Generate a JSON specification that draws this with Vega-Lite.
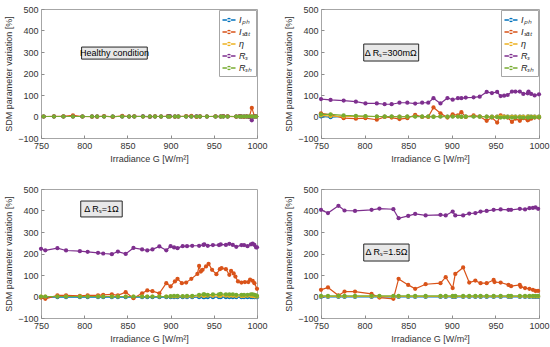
{
"$schema": "https://vega.github.io/schema/vega-lite/v6.json",
"padding": {"left": 4, "top": 4, "right": 2, "bottom": 4},
"config": {
  "font": "Liberation Sans",
  "view": {"stroke": "#a6a6a6"},
  "axis": {"grid": false, "domain": false, "labelFlush": false, "labelOverlap": false, "tickColor": "#8c8c8c", "tickSize": -3, "labelPadding": 6, "labelColor": "#333333", "titleColor": "#333333", "labelFontSize": 9, "titleFontSize": 9, "titleFontWeight": "normal"},
  "legend": {"orient": "top-right", "offset": 1, "title": null, "fillColor": "white", "strokeColor": "#a6a6a6", "padding": 3, "labelFontSize": 9, "labelFontStyle": "italic", "labelColor": "#222", "symbolType": "M-1,-0.1L1,-0.1L1,0.1L-1,0.1Z M-0.33,0A0.33,0.33,0,1,0,0.33,0A0.33,0.33,0,1,0,-0.33,0Z", "symbolSize": 170, "symbolStrokeWidth": 0, "rowPadding": 0, "labelOffset": 3}
},
"columns": 2,
"spacing": {"column": 16, "row": 20},
"resolve": {"legend": {"color": "independent"}},
"datasets": {
"ann": [
 {"p": "A", "x1": 797, "x2": 873, "y1": 267, "y2": 323, "xc": 835, "yc": 295, "label": "Healthy condition"},
 {"p": "B", "x1": 799, "x2": 862, "y1": 258, "y2": 337, "xc": 830, "yc": 297, "label": "Δ Rₛ=300mΩ"},
 {"p": "C", "x1": 796, "x2": 844, "y1": 370, "y2": 444, "xc": 820, "yc": 407, "label": "Δ Rₛ=1Ω"},
 {"p": "D", "x1": 799, "x2": 851, "y1": 165, "y2": 244, "xc": 825, "yc": 205, "label": "Δ Rₛ=1.5Ω"}
],
"d": [
{"p":"A","s":"Iph","G":753,"v":0},{"p":"A","s":"Iph","G":765,"v":0},{"p":"A","s":"Iph","G":776,"v":0},{"p":"A","s":"Iph","G":787,"v":0},{"p":"A","s":"Iph","G":798,"v":0},{"p":"A","s":"Iph","G":809,"v":0},{"p":"A","s":"Iph","G":815,"v":0},{"p":"A","s":"Iph","G":823,"v":0},{"p":"A","s":"Iph","G":833,"v":0},{"p":"A","s":"Iph","G":844,"v":0},{"p":"A","s":"Iph","G":852,"v":0},{"p":"A","s":"Iph","G":858,"v":0},{"p":"A","s":"Iph","G":868,"v":0},{"p":"A","s":"Iph","G":876,"v":0},{"p":"A","s":"Iph","G":882,"v":0},{"p":"A","s":"Iph","G":889,"v":0},{"p":"A","s":"Iph","G":897,"v":0},{"p":"A","s":"Iph","G":899,"v":0},{"p":"A","s":"Iph","G":905,"v":0},{"p":"A","s":"Iph","G":909,"v":0},{"p":"A","s":"Iph","G":918,"v":0},{"p":"A","s":"Iph","G":924,"v":0},{"p":"A","s":"Iph","G":930,"v":0},{"p":"A","s":"Iph","G":934,"v":0},{"p":"A","s":"Iph","G":942,"v":0},{"p":"A","s":"Iph","G":952,"v":0},{"p":"A","s":"Iph","G":958,"v":0},{"p":"A","s":"Iph","G":961,"v":0},{"p":"A","s":"Iph","G":966,"v":0},{"p":"A","s":"Iph","G":976,"v":0},{"p":"A","s":"Iph","G":980,"v":0},{"p":"A","s":"Iph","G":982,"v":0},{"p":"A","s":"Iph","G":985,"v":0},{"p":"A","s":"Iph","G":988,"v":0},{"p":"A","s":"Iph","G":991,"v":0},{"p":"A","s":"Iph","G":994,"v":0},{"p":"A","s":"Iph","G":997,"v":0},{"p":"A","s":"Iph","G":999,"v":0},
{"p":"A","s":"Isat","G":753,"v":0},{"p":"A","s":"Isat","G":765,"v":1},{"p":"A","s":"Isat","G":776,"v":1},{"p":"A","s":"Isat","G":787,"v":5},{"p":"A","s":"Isat","G":798,"v":0},{"p":"A","s":"Isat","G":809,"v":-1},{"p":"A","s":"Isat","G":815,"v":-1},{"p":"A","s":"Isat","G":823,"v":2},{"p":"A","s":"Isat","G":833,"v":-2},{"p":"A","s":"Isat","G":844,"v":3},{"p":"A","s":"Isat","G":852,"v":0},{"p":"A","s":"Isat","G":858,"v":1},{"p":"A","s":"Isat","G":868,"v":0},{"p":"A","s":"Isat","G":876,"v":-1},{"p":"A","s":"Isat","G":882,"v":1},{"p":"A","s":"Isat","G":889,"v":0},{"p":"A","s":"Isat","G":897,"v":2},{"p":"A","s":"Isat","G":899,"v":1},{"p":"A","s":"Isat","G":905,"v":-1},{"p":"A","s":"Isat","G":909,"v":0},{"p":"A","s":"Isat","G":918,"v":2},{"p":"A","s":"Isat","G":924,"v":3},{"p":"A","s":"Isat","G":930,"v":-2},{"p":"A","s":"Isat","G":934,"v":1},{"p":"A","s":"Isat","G":942,"v":0},{"p":"A","s":"Isat","G":952,"v":1},{"p":"A","s":"Isat","G":958,"v":0},{"p":"A","s":"Isat","G":961,"v":2},{"p":"A","s":"Isat","G":966,"v":1},{"p":"A","s":"Isat","G":976,"v":-1},{"p":"A","s":"Isat","G":980,"v":2},{"p":"A","s":"Isat","G":982,"v":0},{"p":"A","s":"Isat","G":985,"v":-2},{"p":"A","s":"Isat","G":988,"v":1},{"p":"A","s":"Isat","G":991,"v":-3},{"p":"A","s":"Isat","G":994,"v":40},{"p":"A","s":"Isat","G":997,"v":2},{"p":"A","s":"Isat","G":999,"v":0},
{"p":"A","s":"eta","G":753,"v":0},{"p":"A","s":"eta","G":765,"v":0},{"p":"A","s":"eta","G":776,"v":0},{"p":"A","s":"eta","G":787,"v":0},{"p":"A","s":"eta","G":798,"v":0},{"p":"A","s":"eta","G":809,"v":0},{"p":"A","s":"eta","G":815,"v":0},{"p":"A","s":"eta","G":823,"v":0},{"p":"A","s":"eta","G":833,"v":0},{"p":"A","s":"eta","G":844,"v":0},{"p":"A","s":"eta","G":852,"v":0},{"p":"A","s":"eta","G":858,"v":0},{"p":"A","s":"eta","G":868,"v":0},{"p":"A","s":"eta","G":876,"v":0},{"p":"A","s":"eta","G":882,"v":0},{"p":"A","s":"eta","G":889,"v":0},{"p":"A","s":"eta","G":897,"v":0},{"p":"A","s":"eta","G":899,"v":0},{"p":"A","s":"eta","G":905,"v":0},{"p":"A","s":"eta","G":909,"v":0},{"p":"A","s":"eta","G":918,"v":0},{"p":"A","s":"eta","G":924,"v":0},{"p":"A","s":"eta","G":930,"v":0},{"p":"A","s":"eta","G":934,"v":0},{"p":"A","s":"eta","G":942,"v":0},{"p":"A","s":"eta","G":952,"v":0},{"p":"A","s":"eta","G":958,"v":0},{"p":"A","s":"eta","G":961,"v":0},{"p":"A","s":"eta","G":966,"v":0},{"p":"A","s":"eta","G":976,"v":0},{"p":"A","s":"eta","G":980,"v":0},{"p":"A","s":"eta","G":982,"v":0},{"p":"A","s":"eta","G":985,"v":0},{"p":"A","s":"eta","G":988,"v":0},{"p":"A","s":"eta","G":991,"v":0},{"p":"A","s":"eta","G":994,"v":1},{"p":"A","s":"eta","G":997,"v":0},{"p":"A","s":"eta","G":999,"v":0},
{"p":"A","s":"Rs","G":753,"v":0},{"p":"A","s":"Rs","G":765,"v":0},{"p":"A","s":"Rs","G":776,"v":0},{"p":"A","s":"Rs","G":787,"v":0},{"p":"A","s":"Rs","G":798,"v":0},{"p":"A","s":"Rs","G":809,"v":0},{"p":"A","s":"Rs","G":815,"v":0},{"p":"A","s":"Rs","G":823,"v":0},{"p":"A","s":"Rs","G":833,"v":0},{"p":"A","s":"Rs","G":844,"v":0},{"p":"A","s":"Rs","G":852,"v":0},{"p":"A","s":"Rs","G":858,"v":0},{"p":"A","s":"Rs","G":868,"v":1},{"p":"A","s":"Rs","G":876,"v":-1},{"p":"A","s":"Rs","G":882,"v":0},{"p":"A","s":"Rs","G":889,"v":0},{"p":"A","s":"Rs","G":897,"v":1},{"p":"A","s":"Rs","G":899,"v":2},{"p":"A","s":"Rs","G":905,"v":0},{"p":"A","s":"Rs","G":909,"v":0},{"p":"A","s":"Rs","G":918,"v":0},{"p":"A","s":"Rs","G":924,"v":0},{"p":"A","s":"Rs","G":930,"v":1},{"p":"A","s":"Rs","G":934,"v":0},{"p":"A","s":"Rs","G":942,"v":0},{"p":"A","s":"Rs","G":952,"v":0},{"p":"A","s":"Rs","G":958,"v":0},{"p":"A","s":"Rs","G":961,"v":1},{"p":"A","s":"Rs","G":966,"v":0},{"p":"A","s":"Rs","G":976,"v":0},{"p":"A","s":"Rs","G":980,"v":1},{"p":"A","s":"Rs","G":982,"v":0},{"p":"A","s":"Rs","G":985,"v":0},{"p":"A","s":"Rs","G":988,"v":0},{"p":"A","s":"Rs","G":991,"v":-2},{"p":"A","s":"Rs","G":994,"v":-18},{"p":"A","s":"Rs","G":997,"v":1},{"p":"A","s":"Rs","G":999,"v":0},
{"p":"A","s":"Rsh","G":753,"v":0},{"p":"A","s":"Rsh","G":765,"v":0},{"p":"A","s":"Rsh","G":776,"v":0},{"p":"A","s":"Rsh","G":787,"v":0},{"p":"A","s":"Rsh","G":798,"v":0},{"p":"A","s":"Rsh","G":809,"v":0},{"p":"A","s":"Rsh","G":815,"v":0},{"p":"A","s":"Rsh","G":823,"v":0},{"p":"A","s":"Rsh","G":833,"v":0},{"p":"A","s":"Rsh","G":844,"v":0},{"p":"A","s":"Rsh","G":852,"v":0},{"p":"A","s":"Rsh","G":858,"v":0},{"p":"A","s":"Rsh","G":868,"v":0},{"p":"A","s":"Rsh","G":876,"v":0},{"p":"A","s":"Rsh","G":882,"v":0},{"p":"A","s":"Rsh","G":889,"v":0},{"p":"A","s":"Rsh","G":897,"v":0},{"p":"A","s":"Rsh","G":899,"v":0},{"p":"A","s":"Rsh","G":905,"v":0},{"p":"A","s":"Rsh","G":909,"v":0},{"p":"A","s":"Rsh","G":918,"v":0},{"p":"A","s":"Rsh","G":924,"v":0},{"p":"A","s":"Rsh","G":930,"v":0},{"p":"A","s":"Rsh","G":934,"v":0},{"p":"A","s":"Rsh","G":942,"v":0},{"p":"A","s":"Rsh","G":952,"v":0},{"p":"A","s":"Rsh","G":958,"v":0},{"p":"A","s":"Rsh","G":961,"v":0},{"p":"A","s":"Rsh","G":966,"v":0},{"p":"A","s":"Rsh","G":976,"v":0},{"p":"A","s":"Rsh","G":980,"v":0},{"p":"A","s":"Rsh","G":982,"v":0},{"p":"A","s":"Rsh","G":985,"v":0},{"p":"A","s":"Rsh","G":988,"v":0},{"p":"A","s":"Rsh","G":991,"v":0},{"p":"A","s":"Rsh","G":994,"v":0},{"p":"A","s":"Rsh","G":997,"v":0},{"p":"A","s":"Rsh","G":999,"v":0},

{"p":"B","s":"Iph","G":750,"v":0},{"p":"B","s":"Iph","G":761,"v":-3},{"p":"B","s":"Iph","G":776,"v":0},{"p":"B","s":"Iph","G":790,"v":0},{"p":"B","s":"Iph","G":801,"v":0},{"p":"B","s":"Iph","G":814,"v":0},{"p":"B","s":"Iph","G":823,"v":0},{"p":"B","s":"Iph","G":831,"v":0},{"p":"B","s":"Iph","G":840,"v":0},{"p":"B","s":"Iph","G":849,"v":0},{"p":"B","s":"Iph","G":858,"v":0},{"p":"B","s":"Iph","G":866,"v":0},{"p":"B","s":"Iph","G":873,"v":0},{"p":"B","s":"Iph","G":879,"v":0},{"p":"B","s":"Iph","G":887,"v":0},{"p":"B","s":"Iph","G":895,"v":0},{"p":"B","s":"Iph","G":901,"v":0},{"p":"B","s":"Iph","G":907,"v":0},{"p":"B","s":"Iph","G":911,"v":0},{"p":"B","s":"Iph","G":916,"v":0},{"p":"B","s":"Iph","G":925,"v":0},{"p":"B","s":"Iph","G":932,"v":0},{"p":"B","s":"Iph","G":940,"v":0},{"p":"B","s":"Iph","G":946,"v":0},{"p":"B","s":"Iph","G":952,"v":0},{"p":"B","s":"Iph","G":956,"v":0},{"p":"B","s":"Iph","G":960,"v":0},{"p":"B","s":"Iph","G":964,"v":0},{"p":"B","s":"Iph","G":969,"v":0},{"p":"B","s":"Iph","G":973,"v":0},{"p":"B","s":"Iph","G":978,"v":0},{"p":"B","s":"Iph","G":982,"v":0},{"p":"B","s":"Iph","G":987,"v":0},{"p":"B","s":"Iph","G":988,"v":0},{"p":"B","s":"Iph","G":991,"v":0},{"p":"B","s":"Iph","G":995,"v":0},{"p":"B","s":"Iph","G":1000,"v":0},
{"p":"B","s":"Isat","G":750,"v":15},{"p":"B","s":"Isat","G":761,"v":8},{"p":"B","s":"Isat","G":776,"v":-8},{"p":"B","s":"Isat","G":790,"v":-10},{"p":"B","s":"Isat","G":801,"v":-8},{"p":"B","s":"Isat","G":814,"v":-15},{"p":"B","s":"Isat","G":823,"v":-2},{"p":"B","s":"Isat","G":831,"v":-5},{"p":"B","s":"Isat","G":840,"v":-12},{"p":"B","s":"Isat","G":849,"v":-8},{"p":"B","s":"Isat","G":858,"v":8},{"p":"B","s":"Isat","G":866,"v":-2},{"p":"B","s":"Isat","G":873,"v":-2},{"p":"B","s":"Isat","G":879,"v":42},{"p":"B","s":"Isat","G":887,"v":15},{"p":"B","s":"Isat","G":895,"v":-5},{"p":"B","s":"Isat","G":901,"v":10},{"p":"B","s":"Isat","G":907,"v":5},{"p":"B","s":"Isat","G":911,"v":20},{"p":"B","s":"Isat","G":916,"v":-2},{"p":"B","s":"Isat","G":925,"v":5},{"p":"B","s":"Isat","G":932,"v":0},{"p":"B","s":"Isat","G":940,"v":-20},{"p":"B","s":"Isat","G":946,"v":-5},{"p":"B","s":"Isat","G":952,"v":-28},{"p":"B","s":"Isat","G":956,"v":5},{"p":"B","s":"Isat","G":960,"v":0},{"p":"B","s":"Isat","G":964,"v":-5},{"p":"B","s":"Isat","G":969,"v":-25},{"p":"B","s":"Isat","G":973,"v":-10},{"p":"B","s":"Isat","G":978,"v":-20},{"p":"B","s":"Isat","G":982,"v":-8},{"p":"B","s":"Isat","G":987,"v":-18},{"p":"B","s":"Isat","G":988,"v":-15},{"p":"B","s":"Isat","G":991,"v":-10},{"p":"B","s":"Isat","G":995,"v":-5},{"p":"B","s":"Isat","G":1000,"v":-5},
{"p":"B","s":"eta","G":750,"v":5},{"p":"B","s":"eta","G":761,"v":2},{"p":"B","s":"eta","G":776,"v":0},{"p":"B","s":"eta","G":790,"v":0},{"p":"B","s":"eta","G":801,"v":0},{"p":"B","s":"eta","G":814,"v":0},{"p":"B","s":"eta","G":823,"v":0},{"p":"B","s":"eta","G":831,"v":0},{"p":"B","s":"eta","G":840,"v":0},{"p":"B","s":"eta","G":849,"v":0},{"p":"B","s":"eta","G":858,"v":0},{"p":"B","s":"eta","G":866,"v":0},{"p":"B","s":"eta","G":873,"v":0},{"p":"B","s":"eta","G":879,"v":0},{"p":"B","s":"eta","G":887,"v":0},{"p":"B","s":"eta","G":895,"v":0},{"p":"B","s":"eta","G":901,"v":0},{"p":"B","s":"eta","G":907,"v":0},{"p":"B","s":"eta","G":911,"v":0},{"p":"B","s":"eta","G":916,"v":0},{"p":"B","s":"eta","G":925,"v":0},{"p":"B","s":"eta","G":932,"v":0},{"p":"B","s":"eta","G":940,"v":0},{"p":"B","s":"eta","G":946,"v":0},{"p":"B","s":"eta","G":952,"v":0},{"p":"B","s":"eta","G":956,"v":0},{"p":"B","s":"eta","G":960,"v":0},{"p":"B","s":"eta","G":964,"v":0},{"p":"B","s":"eta","G":969,"v":0},{"p":"B","s":"eta","G":973,"v":0},{"p":"B","s":"eta","G":978,"v":0},{"p":"B","s":"eta","G":982,"v":0},{"p":"B","s":"eta","G":987,"v":0},{"p":"B","s":"eta","G":988,"v":0},{"p":"B","s":"eta","G":991,"v":0},{"p":"B","s":"eta","G":995,"v":0},{"p":"B","s":"eta","G":1000,"v":0},
{"p":"B","s":"Rs","G":750,"v":81},{"p":"B","s":"Rs","G":761,"v":77},{"p":"B","s":"Rs","G":776,"v":74},{"p":"B","s":"Rs","G":790,"v":69},{"p":"B","s":"Rs","G":801,"v":61},{"p":"B","s":"Rs","G":814,"v":61},{"p":"B","s":"Rs","G":823,"v":57},{"p":"B","s":"Rs","G":831,"v":57},{"p":"B","s":"Rs","G":840,"v":64},{"p":"B","s":"Rs","G":849,"v":64},{"p":"B","s":"Rs","G":858,"v":60},{"p":"B","s":"Rs","G":866,"v":64},{"p":"B","s":"Rs","G":873,"v":64},{"p":"B","s":"Rs","G":879,"v":85},{"p":"B","s":"Rs","G":887,"v":61},{"p":"B","s":"Rs","G":895,"v":86},{"p":"B","s":"Rs","G":901,"v":78},{"p":"B","s":"Rs","G":907,"v":85},{"p":"B","s":"Rs","G":911,"v":85},{"p":"B","s":"Rs","G":916,"v":88},{"p":"B","s":"Rs","G":925,"v":89},{"p":"B","s":"Rs","G":932,"v":92},{"p":"B","s":"Rs","G":940,"v":114},{"p":"B","s":"Rs","G":946,"v":109},{"p":"B","s":"Rs","G":952,"v":114},{"p":"B","s":"Rs","G":956,"v":95},{"p":"B","s":"Rs","G":960,"v":97},{"p":"B","s":"Rs","G":964,"v":100},{"p":"B","s":"Rs","G":969,"v":116},{"p":"B","s":"Rs","G":973,"v":116},{"p":"B","s":"Rs","G":978,"v":116},{"p":"B","s":"Rs","G":982,"v":105},{"p":"B","s":"Rs","G":987,"v":108},{"p":"B","s":"Rs","G":988,"v":116},{"p":"B","s":"Rs","G":991,"v":105},{"p":"B","s":"Rs","G":995,"v":98},{"p":"B","s":"Rs","G":1000,"v":103},
{"p":"B","s":"Rsh","G":750,"v":10},{"p":"B","s":"Rsh","G":761,"v":10},{"p":"B","s":"Rsh","G":776,"v":5},{"p":"B","s":"Rsh","G":790,"v":3},{"p":"B","s":"Rsh","G":801,"v":2},{"p":"B","s":"Rsh","G":814,"v":0},{"p":"B","s":"Rsh","G":823,"v":-1},{"p":"B","s":"Rsh","G":831,"v":0},{"p":"B","s":"Rsh","G":840,"v":-2},{"p":"B","s":"Rsh","G":849,"v":-1},{"p":"B","s":"Rsh","G":858,"v":0},{"p":"B","s":"Rsh","G":866,"v":-1},{"p":"B","s":"Rsh","G":873,"v":0},{"p":"B","s":"Rsh","G":879,"v":-2},{"p":"B","s":"Rsh","G":887,"v":0},{"p":"B","s":"Rsh","G":895,"v":-2},{"p":"B","s":"Rsh","G":901,"v":0},{"p":"B","s":"Rsh","G":907,"v":0},{"p":"B","s":"Rsh","G":911,"v":-2},{"p":"B","s":"Rsh","G":916,"v":-1},{"p":"B","s":"Rsh","G":925,"v":0},{"p":"B","s":"Rsh","G":932,"v":-1},{"p":"B","s":"Rsh","G":940,"v":-2},{"p":"B","s":"Rsh","G":946,"v":-3},{"p":"B","s":"Rsh","G":952,"v":-3},{"p":"B","s":"Rsh","G":956,"v":-5},{"p":"B","s":"Rsh","G":960,"v":-4},{"p":"B","s":"Rsh","G":964,"v":-3},{"p":"B","s":"Rsh","G":969,"v":-5},{"p":"B","s":"Rsh","G":973,"v":-4},{"p":"B","s":"Rsh","G":978,"v":-4},{"p":"B","s":"Rsh","G":982,"v":-5},{"p":"B","s":"Rsh","G":987,"v":-5},{"p":"B","s":"Rsh","G":988,"v":-4},{"p":"B","s":"Rsh","G":991,"v":-3},{"p":"B","s":"Rsh","G":995,"v":-4},{"p":"B","s":"Rsh","G":1000,"v":-3},

{"p":"C","s":"Iph","G":750,"v":-3},{"p":"C","s":"Iph","G":755,"v":-3},{"p":"C","s":"Iph","G":769,"v":-3},{"p":"C","s":"Iph","G":779,"v":-3},{"p":"C","s":"Iph","G":795,"v":-3},{"p":"C","s":"Iph","G":804,"v":-3},{"p":"C","s":"Iph","G":816,"v":-3},{"p":"C","s":"Iph","G":822,"v":-3},{"p":"C","s":"Iph","G":832,"v":-3},{"p":"C","s":"Iph","G":839,"v":-3},{"p":"C","s":"Iph","G":848,"v":-3},{"p":"C","s":"Iph","G":857,"v":-3},{"p":"C","s":"Iph","G":867,"v":-3},{"p":"C","s":"Iph","G":873,"v":-3},{"p":"C","s":"Iph","G":879,"v":-3},{"p":"C","s":"Iph","G":887,"v":-3},{"p":"C","s":"Iph","G":895,"v":-3},{"p":"C","s":"Iph","G":900,"v":-3},{"p":"C","s":"Iph","G":904,"v":-3},{"p":"C","s":"Iph","G":908,"v":-3},{"p":"C","s":"Iph","G":914,"v":-3},{"p":"C","s":"Iph","G":919,"v":-3},{"p":"C","s":"Iph","G":925,"v":-3},{"p":"C","s":"Iph","G":933,"v":-3},{"p":"C","s":"Iph","G":938,"v":-3},{"p":"C","s":"Iph","G":939,"v":-3},{"p":"C","s":"Iph","G":943,"v":-3},{"p":"C","s":"Iph","G":949,"v":-3},{"p":"C","s":"Iph","G":956,"v":-3},{"p":"C","s":"Iph","G":958,"v":-3},{"p":"C","s":"Iph","G":964,"v":-3},{"p":"C","s":"Iph","G":968,"v":-3},{"p":"C","s":"Iph","G":972,"v":-3},{"p":"C","s":"Iph","G":976,"v":-3},{"p":"C","s":"Iph","G":982,"v":-3},{"p":"C","s":"Iph","G":985,"v":-3},{"p":"C","s":"Iph","G":989,"v":-3},{"p":"C","s":"Iph","G":993,"v":-3},{"p":"C","s":"Iph","G":995,"v":-3},{"p":"C","s":"Iph","G":997,"v":-3},{"p":"C","s":"Iph","G":999,"v":-3},{"p":"C","s":"Iph","G":1000,"v":-3},
{"p":"C","s":"Isat","G":750,"v":-5},{"p":"C","s":"Isat","G":755,"v":-11},{"p":"C","s":"Isat","G":769,"v":5},{"p":"C","s":"Isat","G":779,"v":5},{"p":"C","s":"Isat","G":795,"v":3},{"p":"C","s":"Isat","G":804,"v":5},{"p":"C","s":"Isat","G":816,"v":5},{"p":"C","s":"Isat","G":822,"v":8},{"p":"C","s":"Isat","G":832,"v":10},{"p":"C","s":"Isat","G":839,"v":5},{"p":"C","s":"Isat","G":848,"v":20},{"p":"C","s":"Isat","G":857,"v":-8},{"p":"C","s":"Isat","G":867,"v":15},{"p":"C","s":"Isat","G":873,"v":28},{"p":"C","s":"Isat","G":879,"v":25},{"p":"C","s":"Isat","G":887,"v":15},{"p":"C","s":"Isat","G":895,"v":62},{"p":"C","s":"Isat","G":900,"v":47},{"p":"C","s":"Isat","G":905,"v":70},{"p":"C","s":"Isat","G":908,"v":82},{"p":"C","s":"Isat","G":913,"v":62},{"p":"C","s":"Isat","G":918,"v":65},{"p":"C","s":"Isat","G":924,"v":82},{"p":"C","s":"Isat","G":931,"v":105},{"p":"C","s":"Isat","G":933,"v":142},{"p":"C","s":"Isat","G":935,"v":116},{"p":"C","s":"Isat","G":937,"v":124},{"p":"C","s":"Isat","G":941,"v":140},{"p":"C","s":"Isat","G":944,"v":152},{"p":"C","s":"Isat","G":948,"v":124},{"p":"C","s":"Isat","G":953,"v":104},{"p":"C","s":"Isat","G":957,"v":127},{"p":"C","s":"Isat","G":959,"v":132},{"p":"C","s":"Isat","G":964,"v":127},{"p":"C","s":"Isat","G":968,"v":101},{"p":"C","s":"Isat","G":970,"v":119},{"p":"C","s":"Isat","G":973,"v":107},{"p":"C","s":"Isat","G":975,"v":93},{"p":"C","s":"Isat","G":978,"v":70},{"p":"C","s":"Isat","G":982,"v":65},{"p":"C","s":"Isat","G":986,"v":67},{"p":"C","s":"Isat","G":990,"v":67},{"p":"C","s":"Isat","G":992,"v":78},{"p":"C","s":"Isat","G":995,"v":73},{"p":"C","s":"Isat","G":997,"v":62},{"p":"C","s":"Isat","G":1000,"v":36},
{"p":"C","s":"eta","G":750,"v":0},{"p":"C","s":"eta","G":755,"v":0},{"p":"C","s":"eta","G":769,"v":0},{"p":"C","s":"eta","G":779,"v":0},{"p":"C","s":"eta","G":795,"v":0},{"p":"C","s":"eta","G":804,"v":0},{"p":"C","s":"eta","G":816,"v":0},{"p":"C","s":"eta","G":822,"v":0},{"p":"C","s":"eta","G":832,"v":0},{"p":"C","s":"eta","G":839,"v":0},{"p":"C","s":"eta","G":848,"v":0},{"p":"C","s":"eta","G":857,"v":0},{"p":"C","s":"eta","G":867,"v":0},{"p":"C","s":"eta","G":873,"v":0},{"p":"C","s":"eta","G":879,"v":0},{"p":"C","s":"eta","G":887,"v":0},{"p":"C","s":"eta","G":895,"v":0},{"p":"C","s":"eta","G":900,"v":0},{"p":"C","s":"eta","G":904,"v":0},{"p":"C","s":"eta","G":908,"v":0},{"p":"C","s":"eta","G":914,"v":0},{"p":"C","s":"eta","G":919,"v":0},{"p":"C","s":"eta","G":925,"v":0},{"p":"C","s":"eta","G":933,"v":3},{"p":"C","s":"eta","G":938,"v":3},{"p":"C","s":"eta","G":939,"v":3},{"p":"C","s":"eta","G":943,"v":4},{"p":"C","s":"eta","G":949,"v":3},{"p":"C","s":"eta","G":956,"v":3},{"p":"C","s":"eta","G":958,"v":3},{"p":"C","s":"eta","G":964,"v":4},{"p":"C","s":"eta","G":968,"v":3},{"p":"C","s":"eta","G":972,"v":3},{"p":"C","s":"eta","G":976,"v":2},{"p":"C","s":"eta","G":982,"v":2},{"p":"C","s":"eta","G":985,"v":2},{"p":"C","s":"eta","G":989,"v":3},{"p":"C","s":"eta","G":993,"v":3},{"p":"C","s":"eta","G":995,"v":2},{"p":"C","s":"eta","G":997,"v":1},{"p":"C","s":"eta","G":999,"v":0},{"p":"C","s":"eta","G":1000,"v":0},
{"p":"C","s":"Rs","G":750,"v":222},{"p":"C","s":"Rs","G":755,"v":215},{"p":"C","s":"Rs","G":769,"v":225},{"p":"C","s":"Rs","G":779,"v":214},{"p":"C","s":"Rs","G":795,"v":211},{"p":"C","s":"Rs","G":804,"v":208},{"p":"C","s":"Rs","G":816,"v":203},{"p":"C","s":"Rs","G":822,"v":200},{"p":"C","s":"Rs","G":832,"v":197},{"p":"C","s":"Rs","G":839,"v":209},{"p":"C","s":"Rs","G":848,"v":198},{"p":"C","s":"Rs","G":857,"v":226},{"p":"C","s":"Rs","G":867,"v":219},{"p":"C","s":"Rs","G":873,"v":214},{"p":"C","s":"Rs","G":879,"v":219},{"p":"C","s":"Rs","G":887,"v":233},{"p":"C","s":"Rs","G":895,"v":215},{"p":"C","s":"Rs","G":900,"v":234},{"p":"C","s":"Rs","G":904,"v":228},{"p":"C","s":"Rs","G":908,"v":225},{"p":"C","s":"Rs","G":914,"v":234},{"p":"C","s":"Rs","G":919,"v":234},{"p":"C","s":"Rs","G":925,"v":236},{"p":"C","s":"Rs","G":933,"v":236},{"p":"C","s":"Rs","G":938,"v":240},{"p":"C","s":"Rs","G":939,"v":243},{"p":"C","s":"Rs","G":943,"v":236},{"p":"C","s":"Rs","G":949,"v":239},{"p":"C","s":"Rs","G":956,"v":239},{"p":"C","s":"Rs","G":958,"v":242},{"p":"C","s":"Rs","G":964,"v":240},{"p":"C","s":"Rs","G":968,"v":245},{"p":"C","s":"Rs","G":972,"v":240},{"p":"C","s":"Rs","G":976,"v":231},{"p":"C","s":"Rs","G":982,"v":239},{"p":"C","s":"Rs","G":985,"v":239},{"p":"C","s":"Rs","G":989,"v":234},{"p":"C","s":"Rs","G":993,"v":243},{"p":"C","s":"Rs","G":995,"v":246},{"p":"C","s":"Rs","G":997,"v":240},{"p":"C","s":"Rs","G":999,"v":228},{"p":"C","s":"Rs","G":1000,"v":229},
{"p":"C","s":"Rsh","G":750,"v":0},{"p":"C","s":"Rsh","G":755,"v":0},{"p":"C","s":"Rsh","G":769,"v":0},{"p":"C","s":"Rsh","G":779,"v":0},{"p":"C","s":"Rsh","G":795,"v":0},{"p":"C","s":"Rsh","G":804,"v":0},{"p":"C","s":"Rsh","G":816,"v":0},{"p":"C","s":"Rsh","G":822,"v":0},{"p":"C","s":"Rsh","G":832,"v":0},{"p":"C","s":"Rsh","G":839,"v":0},{"p":"C","s":"Rsh","G":848,"v":0},{"p":"C","s":"Rsh","G":857,"v":0},{"p":"C","s":"Rsh","G":867,"v":0},{"p":"C","s":"Rsh","G":873,"v":0},{"p":"C","s":"Rsh","G":879,"v":0},{"p":"C","s":"Rsh","G":887,"v":0},{"p":"C","s":"Rsh","G":895,"v":0},{"p":"C","s":"Rsh","G":900,"v":2},{"p":"C","s":"Rsh","G":904,"v":3},{"p":"C","s":"Rsh","G":908,"v":3},{"p":"C","s":"Rsh","G":914,"v":2},{"p":"C","s":"Rsh","G":919,"v":3},{"p":"C","s":"Rsh","G":925,"v":3},{"p":"C","s":"Rsh","G":933,"v":8},{"p":"C","s":"Rsh","G":938,"v":10},{"p":"C","s":"Rsh","G":939,"v":10},{"p":"C","s":"Rsh","G":943,"v":8},{"p":"C","s":"Rsh","G":949,"v":10},{"p":"C","s":"Rsh","G":956,"v":10},{"p":"C","s":"Rsh","G":958,"v":12},{"p":"C","s":"Rsh","G":964,"v":10},{"p":"C","s":"Rsh","G":968,"v":10},{"p":"C","s":"Rsh","G":972,"v":10},{"p":"C","s":"Rsh","G":976,"v":8},{"p":"C","s":"Rsh","G":982,"v":8},{"p":"C","s":"Rsh","G":985,"v":8},{"p":"C","s":"Rsh","G":989,"v":8},{"p":"C","s":"Rsh","G":993,"v":10},{"p":"C","s":"Rsh","G":995,"v":10},{"p":"C","s":"Rsh","G":997,"v":8},{"p":"C","s":"Rsh","G":999,"v":5},{"p":"C","s":"Rsh","G":1000,"v":3},

{"p":"D","s":"Iph","G":750,"v":-2},{"p":"D","s":"Iph","G":758,"v":-2},{"p":"D","s":"Iph","G":770,"v":-2},{"p":"D","s":"Iph","G":777,"v":-2},{"p":"D","s":"Iph","G":789,"v":-2},{"p":"D","s":"Iph","G":808,"v":-2},{"p":"D","s":"Iph","G":817,"v":-2},{"p":"D","s":"Iph","G":833,"v":-2},{"p":"D","s":"Iph","G":839,"v":-2},{"p":"D","s":"Iph","G":850,"v":-2},{"p":"D","s":"Iph","G":858,"v":-2},{"p":"D","s":"Iph","G":870,"v":-2},{"p":"D","s":"Iph","G":887,"v":-2},{"p":"D","s":"Iph","G":893,"v":-2},{"p":"D","s":"Iph","G":901,"v":-2},{"p":"D","s":"Iph","G":904,"v":-2},{"p":"D","s":"Iph","G":913,"v":-2},{"p":"D","s":"Iph","G":920,"v":-2},{"p":"D","s":"Iph","G":927,"v":-2},{"p":"D","s":"Iph","G":933,"v":-2},{"p":"D","s":"Iph","G":940,"v":-2},{"p":"D","s":"Iph","G":948,"v":-2},{"p":"D","s":"Iph","G":956,"v":-2},{"p":"D","s":"Iph","G":965,"v":-2},{"p":"D","s":"Iph","G":968,"v":-2},{"p":"D","s":"Iph","G":978,"v":-2},{"p":"D","s":"Iph","G":984,"v":-2},{"p":"D","s":"Iph","G":989,"v":-2},{"p":"D","s":"Iph","G":993,"v":-2},{"p":"D","s":"Iph","G":996,"v":-2},{"p":"D","s":"Iph","G":999,"v":-2},
{"p":"D","s":"Isat","G":750,"v":31},{"p":"D","s":"Isat","G":758,"v":42},{"p":"D","s":"Isat","G":770,"v":5},{"p":"D","s":"Isat","G":777,"v":23},{"p":"D","s":"Isat","G":789,"v":23},{"p":"D","s":"Isat","G":808,"v":12},{"p":"D","s":"Isat","G":817,"v":-5},{"p":"D","s":"Isat","G":833,"v":-11},{"p":"D","s":"Isat","G":839,"v":82},{"p":"D","s":"Isat","G":850,"v":54},{"p":"D","s":"Isat","G":858,"v":36},{"p":"D","s":"Isat","G":870,"v":57},{"p":"D","s":"Isat","G":887,"v":62},{"p":"D","s":"Isat","G":893,"v":90},{"p":"D","s":"Isat","G":901,"v":39},{"p":"D","s":"Isat","G":904,"v":105},{"p":"D","s":"Isat","G":913,"v":135},{"p":"D","s":"Isat","G":920,"v":65},{"p":"D","s":"Isat","G":927,"v":74},{"p":"D","s":"Isat","G":933,"v":62},{"p":"D","s":"Isat","G":940,"v":62},{"p":"D","s":"Isat","G":948,"v":77},{"p":"D","s":"Isat","G":949,"v":67},{"p":"D","s":"Isat","G":956,"v":65},{"p":"D","s":"Isat","G":965,"v":54},{"p":"D","s":"Isat","G":968,"v":48},{"p":"D","s":"Isat","G":978,"v":54},{"p":"D","s":"Isat","G":979,"v":45},{"p":"D","s":"Isat","G":984,"v":39},{"p":"D","s":"Isat","G":989,"v":36},{"p":"D","s":"Isat","G":993,"v":31},{"p":"D","s":"Isat","G":996,"v":26},{"p":"D","s":"Isat","G":999,"v":26},
{"p":"D","s":"eta","G":750,"v":0},{"p":"D","s":"eta","G":758,"v":0},{"p":"D","s":"eta","G":770,"v":0},{"p":"D","s":"eta","G":777,"v":0},{"p":"D","s":"eta","G":789,"v":0},{"p":"D","s":"eta","G":808,"v":0},{"p":"D","s":"eta","G":817,"v":0},{"p":"D","s":"eta","G":833,"v":0},{"p":"D","s":"eta","G":839,"v":0},{"p":"D","s":"eta","G":850,"v":0},{"p":"D","s":"eta","G":858,"v":0},{"p":"D","s":"eta","G":870,"v":0},{"p":"D","s":"eta","G":887,"v":0},{"p":"D","s":"eta","G":893,"v":0},{"p":"D","s":"eta","G":901,"v":0},{"p":"D","s":"eta","G":904,"v":0},{"p":"D","s":"eta","G":913,"v":0},{"p":"D","s":"eta","G":920,"v":0},{"p":"D","s":"eta","G":927,"v":0},{"p":"D","s":"eta","G":933,"v":0},{"p":"D","s":"eta","G":940,"v":0},{"p":"D","s":"eta","G":948,"v":0},{"p":"D","s":"eta","G":956,"v":0},{"p":"D","s":"eta","G":965,"v":0},{"p":"D","s":"eta","G":968,"v":0},{"p":"D","s":"eta","G":978,"v":0},{"p":"D","s":"eta","G":984,"v":0},{"p":"D","s":"eta","G":989,"v":0},{"p":"D","s":"eta","G":993,"v":0},{"p":"D","s":"eta","G":996,"v":0},{"p":"D","s":"eta","G":999,"v":0},
{"p":"D","s":"Rs","G":750,"v":403},{"p":"D","s":"Rs","G":758,"v":388},{"p":"D","s":"Rs","G":770,"v":422},{"p":"D","s":"Rs","G":777,"v":400},{"p":"D","s":"Rs","G":789,"v":398},{"p":"D","s":"Rs","G":808,"v":403},{"p":"D","s":"Rs","G":817,"v":409},{"p":"D","s":"Rs","G":833,"v":406},{"p":"D","s":"Rs","G":839,"v":364},{"p":"D","s":"Rs","G":850,"v":375},{"p":"D","s":"Rs","G":858,"v":384},{"p":"D","s":"Rs","G":870,"v":377},{"p":"D","s":"Rs","G":887,"v":380},{"p":"D","s":"Rs","G":893,"v":377},{"p":"D","s":"Rs","G":901,"v":395},{"p":"D","s":"Rs","G":904,"v":377},{"p":"D","s":"Rs","G":913,"v":377},{"p":"D","s":"Rs","G":920,"v":386},{"p":"D","s":"Rs","G":927,"v":388},{"p":"D","s":"Rs","G":933,"v":395},{"p":"D","s":"Rs","G":940,"v":398},{"p":"D","s":"Rs","G":948,"v":403},{"p":"D","s":"Rs","G":956,"v":405},{"p":"D","s":"Rs","G":965,"v":403},{"p":"D","s":"Rs","G":968,"v":403},{"p":"D","s":"Rs","G":978,"v":408},{"p":"D","s":"Rs","G":984,"v":405},{"p":"D","s":"Rs","G":989,"v":411},{"p":"D","s":"Rs","G":993,"v":412},{"p":"D","s":"Rs","G":996,"v":415},{"p":"D","s":"Rs","G":999,"v":408},
{"p":"D","s":"Rsh","G":750,"v":3},{"p":"D","s":"Rsh","G":758,"v":3},{"p":"D","s":"Rsh","G":770,"v":3},{"p":"D","s":"Rsh","G":777,"v":3},{"p":"D","s":"Rsh","G":789,"v":3},{"p":"D","s":"Rsh","G":808,"v":3},{"p":"D","s":"Rsh","G":817,"v":3},{"p":"D","s":"Rsh","G":833,"v":3},{"p":"D","s":"Rsh","G":839,"v":3},{"p":"D","s":"Rsh","G":850,"v":3},{"p":"D","s":"Rsh","G":858,"v":3},{"p":"D","s":"Rsh","G":870,"v":3},{"p":"D","s":"Rsh","G":887,"v":3},{"p":"D","s":"Rsh","G":893,"v":3},{"p":"D","s":"Rsh","G":901,"v":3},{"p":"D","s":"Rsh","G":904,"v":3},{"p":"D","s":"Rsh","G":913,"v":3},{"p":"D","s":"Rsh","G":920,"v":3},{"p":"D","s":"Rsh","G":927,"v":3},{"p":"D","s":"Rsh","G":933,"v":3},{"p":"D","s":"Rsh","G":940,"v":3},{"p":"D","s":"Rsh","G":948,"v":3},{"p":"D","s":"Rsh","G":956,"v":3},{"p":"D","s":"Rsh","G":965,"v":3},{"p":"D","s":"Rsh","G":968,"v":3},{"p":"D","s":"Rsh","G":978,"v":3},{"p":"D","s":"Rsh","G":984,"v":3},{"p":"D","s":"Rsh","G":989,"v":3},{"p":"D","s":"Rsh","G":993,"v":3},{"p":"D","s":"Rsh","G":996,"v":3},{"p":"D","s":"Rsh","G":999,"v":3}
]
},
"concat": [
{
 "width": 216, "height": 129,
 "layer": [
  {"data": {"name": "d"}, "transform": [{"filter": "datum.p == 'A'"}],
   "mark": {"type": "line", "strokeWidth": 1.2},
   "encoding": {
    "x": {"field": "G", "type": "quantitative", "scale": {"domain": [750, 1000], "nice": false, "zero": false}, "axis": {"values": [750, 800, 850, 900, 950, 1000], "format": "d", "title": "Irradiance  G [W/m²]"}},
    "y": {"field": "v", "type": "quantitative", "scale": {"domain": [-100, 500], "nice": false, "zero": false}, "axis": {"values": [-100, 0, 100, 200, 300, 400, 500], "format": "d", "title": "SDM parameter variation [%]"}},
    "color": {"field": "s", "type": "nominal", "scale": {"domain": ["Iph", "Isat", "eta", "Rs", "Rsh"], "range": ["#0072BD", "#D95319", "#EDB120", "#7E2F8E", "#77AC30"]}, "legend": {"labelExpr": "{'Iph':'Iₚₕ','Isat':'Iₛₐₜ','eta':'η','Rs':'Rₛ','Rsh':'Rₛₕ'}[datum.label]"}}}},
  {"data": {"name": "d"}, "transform": [{"filter": "datum.p == 'A'"}],
   "mark": {"type": "point", "filled": true, "size": 18, "opacity": 1},
   "encoding": {
    "x": {"field": "G", "type": "quantitative", "scale": {"domain": [750, 1000], "nice": false, "zero": false}, "axis": {"values": [750, 800, 850, 900, 950, 1000], "format": "d", "title": "Irradiance  G [W/m²]"}},
    "y": {"field": "v", "type": "quantitative", "scale": {"domain": [-100, 500], "nice": false, "zero": false}, "axis": {"values": [-100, 0, 100, 200, 300, 400, 500], "format": "d", "title": "SDM parameter variation [%]"}},
    "color": {"field": "s", "type": "nominal", "scale": {"domain": ["Iph", "Isat", "eta", "Rs", "Rsh"], "range": ["#0072BD", "#D95319", "#EDB120", "#7E2F8E", "#77AC30"]}, "legend": {"labelExpr": "{'Iph':'Iₚₕ','Isat':'Iₛₐₜ','eta':'η','Rs':'Rₛ','Rsh':'Rₛₕ'}[datum.label]"}}}},
  {"data": {"name": "ann"}, "transform": [{"filter": "datum.p == 'A'"}],
   "mark": {"type": "rect", "fill": "#e8e8e8", "stroke": "#262626", "strokeWidth": 1},
   "encoding": {
    "x": {"field": "x1", "type": "quantitative", "scale": {"domain": [750, 1000], "nice": false, "zero": false}, "axis": {"values": [750, 800, 850, 900, 950, 1000], "format": "d", "title": "Irradiance  G [W/m²]"}}, "x2": {"field": "x2"},
    "y": {"field": "y1", "type": "quantitative", "scale": {"domain": [-100, 500], "nice": false, "zero": false}, "axis": {"values": [-100, 0, 100, 200, 300, 400, 500], "format": "d", "title": "SDM parameter variation [%]"}}, "y2": {"field": "y2"}}},
  {"data": {"name": "ann"}, "transform": [{"filter": "datum.p == 'A'"}],
   "mark": {"type": "text", "fontSize": 9, "color": "#000"},
   "encoding": {
    "x": {"field": "xc", "type": "quantitative", "scale": {"domain": [750, 1000], "nice": false, "zero": false}, "axis": {"values": [750, 800, 850, 900, 950, 1000], "format": "d", "title": "Irradiance  G [W/m²]"}},
    "y": {"field": "yc", "type": "quantitative", "scale": {"domain": [-100, 500], "nice": false, "zero": false}, "axis": {"values": [-100, 0, 100, 200, 300, 400, 500], "format": "d", "title": "SDM parameter variation [%]"}},
    "text": {"field": "label"}}}
 ]
},
{
 "width": 218, "height": 129,
 "layer": [
  {"data": {"name": "d"}, "transform": [{"filter": "datum.p == 'B'"}],
   "mark": {"type": "line", "strokeWidth": 1.2},
   "encoding": {
    "x": {"field": "G", "type": "quantitative", "scale": {"domain": [750, 1000], "nice": false, "zero": false}, "axis": {"values": [750, 800, 850, 900, 950, 1000], "format": "d", "title": "Irradiance  G [W/m²]"}},
    "y": {"field": "v", "type": "quantitative", "scale": {"domain": [-100, 500], "nice": false, "zero": false}, "axis": {"values": [-100, 0, 100, 200, 300, 400, 500], "format": "d", "title": "SDM parameter variation [%]"}},
    "color": {"field": "s", "type": "nominal", "scale": {"domain": ["Iph", "Isat", "eta", "Rs", "Rsh"], "range": ["#0072BD", "#D95319", "#EDB120", "#7E2F8E", "#77AC30"]}, "legend": {"labelExpr": "{'Iph':'Iₚₕ','Isat':'Iₛₐₜ','eta':'η','Rs':'Rₛ','Rsh':'Rₛₕ'}[datum.label]"}}}},
  {"data": {"name": "d"}, "transform": [{"filter": "datum.p == 'B'"}],
   "mark": {"type": "point", "filled": true, "size": 18, "opacity": 1},
   "encoding": {
    "x": {"field": "G", "type": "quantitative", "scale": {"domain": [750, 1000], "nice": false, "zero": false}, "axis": {"values": [750, 800, 850, 900, 950, 1000], "format": "d", "title": "Irradiance  G [W/m²]"}},
    "y": {"field": "v", "type": "quantitative", "scale": {"domain": [-100, 500], "nice": false, "zero": false}, "axis": {"values": [-100, 0, 100, 200, 300, 400, 500], "format": "d", "title": "SDM parameter variation [%]"}},
    "color": {"field": "s", "type": "nominal", "scale": {"domain": ["Iph", "Isat", "eta", "Rs", "Rsh"], "range": ["#0072BD", "#D95319", "#EDB120", "#7E2F8E", "#77AC30"]}, "legend": {"labelExpr": "{'Iph':'Iₚₕ','Isat':'Iₛₐₜ','eta':'η','Rs':'Rₛ','Rsh':'Rₛₕ'}[datum.label]"}}}},
  {"data": {"name": "ann"}, "transform": [{"filter": "datum.p == 'B'"}],
   "mark": {"type": "rect", "fill": "#e8e8e8", "stroke": "#262626", "strokeWidth": 1},
   "encoding": {
    "x": {"field": "x1", "type": "quantitative", "scale": {"domain": [750, 1000], "nice": false, "zero": false}, "axis": {"values": [750, 800, 850, 900, 950, 1000], "format": "d", "title": "Irradiance  G [W/m²]"}}, "x2": {"field": "x2"},
    "y": {"field": "y1", "type": "quantitative", "scale": {"domain": [-100, 500], "nice": false, "zero": false}, "axis": {"values": [-100, 0, 100, 200, 300, 400, 500], "format": "d", "title": "SDM parameter variation [%]"}}, "y2": {"field": "y2"}}},
  {"data": {"name": "ann"}, "transform": [{"filter": "datum.p == 'B'"}],
   "mark": {"type": "text", "fontSize": 9, "color": "#000"},
   "encoding": {
    "x": {"field": "xc", "type": "quantitative", "scale": {"domain": [750, 1000], "nice": false, "zero": false}, "axis": {"values": [750, 800, 850, 900, 950, 1000], "format": "d", "title": "Irradiance  G [W/m²]"}},
    "y": {"field": "yc", "type": "quantitative", "scale": {"domain": [-100, 500], "nice": false, "zero": false}, "axis": {"values": [-100, 0, 100, 200, 300, 400, 500], "format": "d", "title": "SDM parameter variation [%]"}},
    "text": {"field": "label"}}}
 ]
},
{
 "width": 216, "height": 129,
 "layer": [
  {"data": {"name": "d"}, "transform": [{"filter": "datum.p == 'C'"}],
   "mark": {"type": "line", "strokeWidth": 1.2},
   "encoding": {
    "x": {"field": "G", "type": "quantitative", "scale": {"domain": [750, 1000], "nice": false, "zero": false}, "axis": {"values": [750, 800, 850, 900, 950, 1000], "format": "d", "title": "Irradiance  G [W/m²]"}},
    "y": {"field": "v", "type": "quantitative", "scale": {"domain": [-100, 500], "nice": false, "zero": false}, "axis": {"values": [-100, 0, 100, 200, 300, 400, 500], "format": "d", "title": "SDM parameter variation [%]"}},
    "color": {"field": "s", "type": "nominal", "scale": {"domain": ["Iph", "Isat", "eta", "Rs", "Rsh"], "range": ["#0072BD", "#D95319", "#EDB120", "#7E2F8E", "#77AC30"]}, "legend": null}}},
  {"data": {"name": "d"}, "transform": [{"filter": "datum.p == 'C'"}],
   "mark": {"type": "point", "filled": true, "size": 18, "opacity": 1},
   "encoding": {
    "x": {"field": "G", "type": "quantitative", "scale": {"domain": [750, 1000], "nice": false, "zero": false}, "axis": {"values": [750, 800, 850, 900, 950, 1000], "format": "d", "title": "Irradiance  G [W/m²]"}},
    "y": {"field": "v", "type": "quantitative", "scale": {"domain": [-100, 500], "nice": false, "zero": false}, "axis": {"values": [-100, 0, 100, 200, 300, 400, 500], "format": "d", "title": "SDM parameter variation [%]"}},
    "color": {"field": "s", "type": "nominal", "scale": {"domain": ["Iph", "Isat", "eta", "Rs", "Rsh"], "range": ["#0072BD", "#D95319", "#EDB120", "#7E2F8E", "#77AC30"]}, "legend": null}}},
  {"data": {"name": "ann"}, "transform": [{"filter": "datum.p == 'C'"}],
   "mark": {"type": "rect", "fill": "#e8e8e8", "stroke": "#262626", "strokeWidth": 1},
   "encoding": {
    "x": {"field": "x1", "type": "quantitative", "scale": {"domain": [750, 1000], "nice": false, "zero": false}, "axis": {"values": [750, 800, 850, 900, 950, 1000], "format": "d", "title": "Irradiance  G [W/m²]"}}, "x2": {"field": "x2"},
    "y": {"field": "y1", "type": "quantitative", "scale": {"domain": [-100, 500], "nice": false, "zero": false}, "axis": {"values": [-100, 0, 100, 200, 300, 400, 500], "format": "d", "title": "SDM parameter variation [%]"}}, "y2": {"field": "y2"}}},
  {"data": {"name": "ann"}, "transform": [{"filter": "datum.p == 'C'"}],
   "mark": {"type": "text", "fontSize": 9, "color": "#000"},
   "encoding": {
    "x": {"field": "xc", "type": "quantitative", "scale": {"domain": [750, 1000], "nice": false, "zero": false}, "axis": {"values": [750, 800, 850, 900, 950, 1000], "format": "d", "title": "Irradiance  G [W/m²]"}},
    "y": {"field": "yc", "type": "quantitative", "scale": {"domain": [-100, 500], "nice": false, "zero": false}, "axis": {"values": [-100, 0, 100, 200, 300, 400, 500], "format": "d", "title": "SDM parameter variation [%]"}},
    "text": {"field": "label"}}}
 ]
},
{
 "width": 218, "height": 129,
 "layer": [
  {"data": {"name": "d"}, "transform": [{"filter": "datum.p == 'D'"}],
   "mark": {"type": "line", "strokeWidth": 1.2},
   "encoding": {
    "x": {"field": "G", "type": "quantitative", "scale": {"domain": [750, 1000], "nice": false, "zero": false}, "axis": {"values": [750, 800, 850, 900, 950, 1000], "format": "d", "title": "Irradiance  G [W/m²]"}},
    "y": {"field": "v", "type": "quantitative", "scale": {"domain": [-100, 500], "nice": false, "zero": false}, "axis": {"values": [-100, 0, 100, 200, 300, 400, 500], "format": "d", "title": "SDM parameter variation [%]"}},
    "color": {"field": "s", "type": "nominal", "scale": {"domain": ["Iph", "Isat", "eta", "Rs", "Rsh"], "range": ["#0072BD", "#D95319", "#EDB120", "#7E2F8E", "#77AC30"]}, "legend": null}}},
  {"data": {"name": "d"}, "transform": [{"filter": "datum.p == 'D'"}],
   "mark": {"type": "point", "filled": true, "size": 18, "opacity": 1},
   "encoding": {
    "x": {"field": "G", "type": "quantitative", "scale": {"domain": [750, 1000], "nice": false, "zero": false}, "axis": {"values": [750, 800, 850, 900, 950, 1000], "format": "d", "title": "Irradiance  G [W/m²]"}},
    "y": {"field": "v", "type": "quantitative", "scale": {"domain": [-100, 500], "nice": false, "zero": false}, "axis": {"values": [-100, 0, 100, 200, 300, 400, 500], "format": "d", "title": "SDM parameter variation [%]"}},
    "color": {"field": "s", "type": "nominal", "scale": {"domain": ["Iph", "Isat", "eta", "Rs", "Rsh"], "range": ["#0072BD", "#D95319", "#EDB120", "#7E2F8E", "#77AC30"]}, "legend": null}}},
  {"data": {"name": "ann"}, "transform": [{"filter": "datum.p == 'D'"}],
   "mark": {"type": "rect", "fill": "#e8e8e8", "stroke": "#262626", "strokeWidth": 1},
   "encoding": {
    "x": {"field": "x1", "type": "quantitative", "scale": {"domain": [750, 1000], "nice": false, "zero": false}, "axis": {"values": [750, 800, 850, 900, 950, 1000], "format": "d", "title": "Irradiance  G [W/m²]"}}, "x2": {"field": "x2"},
    "y": {"field": "y1", "type": "quantitative", "scale": {"domain": [-100, 500], "nice": false, "zero": false}, "axis": {"values": [-100, 0, 100, 200, 300, 400, 500], "format": "d", "title": "SDM parameter variation [%]"}}, "y2": {"field": "y2"}}},
  {"data": {"name": "ann"}, "transform": [{"filter": "datum.p == 'D'"}],
   "mark": {"type": "text", "fontSize": 9, "color": "#000"},
   "encoding": {
    "x": {"field": "xc", "type": "quantitative", "scale": {"domain": [750, 1000], "nice": false, "zero": false}, "axis": {"values": [750, 800, 850, 900, 950, 1000], "format": "d", "title": "Irradiance  G [W/m²]"}},
    "y": {"field": "yc", "type": "quantitative", "scale": {"domain": [-100, 500], "nice": false, "zero": false}, "axis": {"values": [-100, 0, 100, 200, 300, 400, 500], "format": "d", "title": "SDM parameter variation [%]"}},
    "text": {"field": "label"}}}
 ]
}
]
}
